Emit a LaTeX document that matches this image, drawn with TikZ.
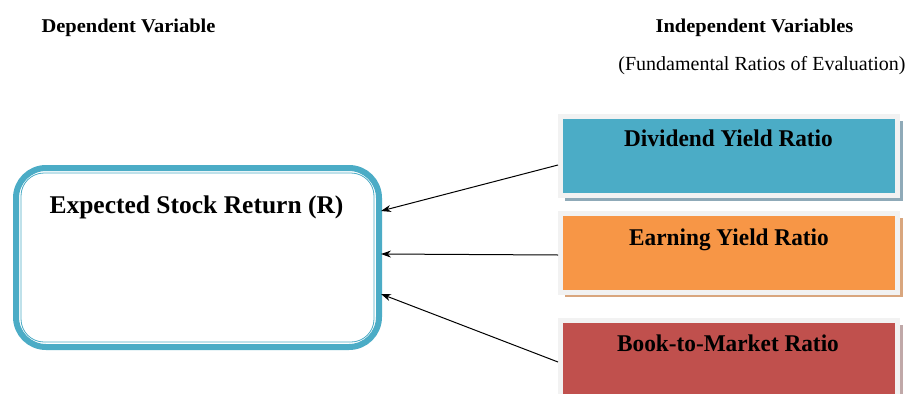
\documentclass[tikz,border=0pt]{standalone}
\usepackage{fontspec}
\setmainfont{Liberation Serif}
\newfontfamily\widefont{Liberation Serif}[FakeStretch=1.05]
\newfontfamily\boxfont{Liberation Serif}[FakeStretch=0.97]
\usetikzlibrary{arrows.meta}
\definecolor{cblue}{HTML}{4BACC6}
\definecolor{corange}{HTML}{F79646}
\definecolor{cred}{HTML}{C0504D}
\definecolor{cframe}{HTML}{F2F2F2}
\definecolor{sblue}{HTML}{8FAAB8}
\definecolor{sorange}{HTML}{D9A67E}
\definecolor{sred}{HTML}{C0A8A8}
\tikzset{
  header/.style={font=\widefont\bfseries\fontsize{19.5}{23}\selectfont, inner sep=0pt, anchor=base},
  subheader/.style={font=\fontsize{20}{24}\selectfont, inner sep=0pt, anchor=base},
  mainbox/.style={draw=cblue, line width=6pt, rounded corners=30pt, minimum width=363pt, minimum height=179pt, inner sep=0pt},
  innerframe/.style={draw=cblue, line width=0.8pt, rounded corners=23pt},
  ratiobox/.style={draw=cframe, line width=5pt, minimum width=337pt, minimum height=79pt, inner sep=0pt},
  titletext/.style={font=\bfseries\fontsize{25.5}{30}\selectfont, inner sep=0pt, anchor=base},
  boxtext/.style={font=\boxfont\bfseries\fontsize{24}{28}\selectfont, inner sep=0pt, anchor=base},
  conn/.style={-{Stealth[length=10pt,width=7pt]}, line width=1pt, black},
}
\begin{document}
\begin{tikzpicture}[x=1pt,y=-1pt]
\clip (0,0) rectangle (906,394);
\fill[white] (0,0) rectangle (906,394);
% headers
\node[header] (hdep) at (128.5,32) {Dependent Variable};
\node[header] (hind) at (754.5,32) {Independent Variables};
\node[subheader] (hsub) at (762,70) {(Fundamental Ratios of Evaluation)};
% main box
\node[mainbox] (main) at (197.5,257.5) {};
\draw[innerframe] ([xshift=8pt,yshift=-8pt]main.north west) rectangle ([xshift=-8pt,yshift=8pt]main.south east);
\node[titletext] (mtitle) at (196.5,213) {Expected Stock Return (R)};
% ratio boxes with shadows
\fill[sblue] (565,121) rectangle (903,201);
\node[ratiobox, fill=cblue] (div) at (729,156) {};
\node[boxtext] (divt) at (728.5,146.7) {Dividend Yield Ratio};
\fill[sorange] (565,218) rectangle (903,297);
\node[ratiobox, fill=corange] (earn) at (729,252.5) {};
\node[boxtext] (earnt) at (729,245) {Earning Yield Ratio};
\fill[sred] (565,325) rectangle (903,404);
\node[ratiobox, fill=cred] (book) at (729,360) {};
\node[boxtext] (bookt) at (728,351.7) {Book-to-Market Ratio};
% connectors
\coordinate (a1) at (381,211);
\coordinate (a2) at (381,254);
\coordinate (a3) at (381,294);
\draw[conn] ([yshift=-9pt]div.west) -- (a1);
\draw[conn] ([yshift=-2.5pt]earn.west) -- (a2);
\draw[conn] ([yshift=-2pt]book.west) -- (a3);
\end{tikzpicture}
\end{document}
